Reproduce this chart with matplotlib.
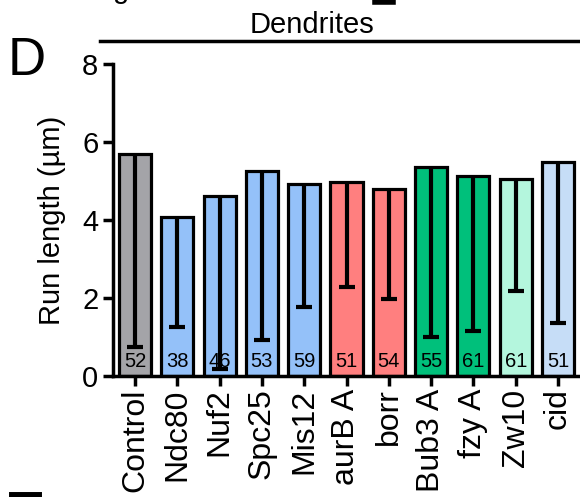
import matplotlib
matplotlib.use("Agg")
import matplotlib.pyplot as plt
from matplotlib.lines import Line2D

plt.rcParams['font.family'] = ['Liberation Sans', 'DejaVu Sans']

categories = ["Control", "Ndc80", "Nuf2", "Spc25", "Mis12", "aurB A", "borr",
              "Bub3 A", "fzy A", "Zw10", "cid"]
means = [5.68, 4.08, 4.61, 5.25, 4.92, 4.97, 4.79, 5.37, 5.12, 5.05, 5.48]
lower_err = [4.94, 2.83, 4.44, 4.33, 3.15, 2.68, 2.81, 4.36, 3.97, 2.88, 4.11]
counts = ["52", "38", "46", "53", "59", "51", "54", "55", "61", "61", "51"]
colors = ["#a4a4a8", "#94c1f9", "#94c1f9", "#94c1f9", "#94c1f9", "#ff7f7f",
          "#ff7f7f", "#00c07b", "#00c07b", "#b4f6dd", "#c6ddf7"]
yticks = [0, 2, 4, 6, 8]

W, H = 580, 497
fig = plt.figure(figsize=(W / 100, H / 100), dpi=100)
ax = fig.add_axes([113 / W, 1 - 376 / H, (580 - 113) / W, (376 - 64) / H])

x = list(range(len(categories)))
ax.bar(x, means, width=0.76, color=colors, edgecolor="black", linewidth=2.3, zorder=2)
eb = ax.errorbar(x, means, yerr=[lower_err, [0] * len(means)], fmt="none",
                 ecolor="black", elinewidth=3, capsize=6, capthick=3, zorder=3)
# keep only the lower cap
eb[1][1].set_visible(False)
for xi, c in zip(x, counts):
    ax.text(xi, 0.12, c, ha="center", va="bottom", fontsize=14.5, zorder=4)

ax.set_xlim(-0.52, 10.52)
ax.set_ylim(0, 8)
ax.set_yticks(yticks)
ax.set_xticks(x)
ax.set_xticklabels(categories, rotation=90, fontsize=23)
ax.tick_params(axis="y", labelsize=21, width=2.5, length=7, direction="out")
ax.tick_params(axis="x", width=2.5, length=7, direction="out", pad=2)
ax.set_ylabel("Run length (µm)", fontsize=21, labelpad=12)
for s in ["top", "right"]:
    ax.spines[s].set_visible(False)
for s in ["left", "bottom"]:
    ax.spines[s].set_linewidth(2.5)

# header line and title
fig.add_artist(Line2D([100 / W, 1.0], [1 - 41 / H, 1 - 41 / H], color="black", lw=2.5))
fig.text(312 / W, 1 - 33 / H, "Dendrites", ha="center", va="baseline", fontsize=21)
fig.text(8 / W, 1 - 75 / H, "D", ha="left", va="baseline", fontsize=38)

# fragments of neighbouring panels
fig.text(113 / W, 1 - (-2) / H, "g", ha="left", va="baseline", fontsize=21)
fig.add_artist(Line2D([375 / W, 393 / W], [1 - 2 / H, 1 - 2 / H], color="black", lw=4))
fig.add_artist(Line2D([12 / W, 38 / W], [1 - 495 / H, 1 - 495 / H], color="black", lw=5))

fig.savefig("out.png", dpi=100)
